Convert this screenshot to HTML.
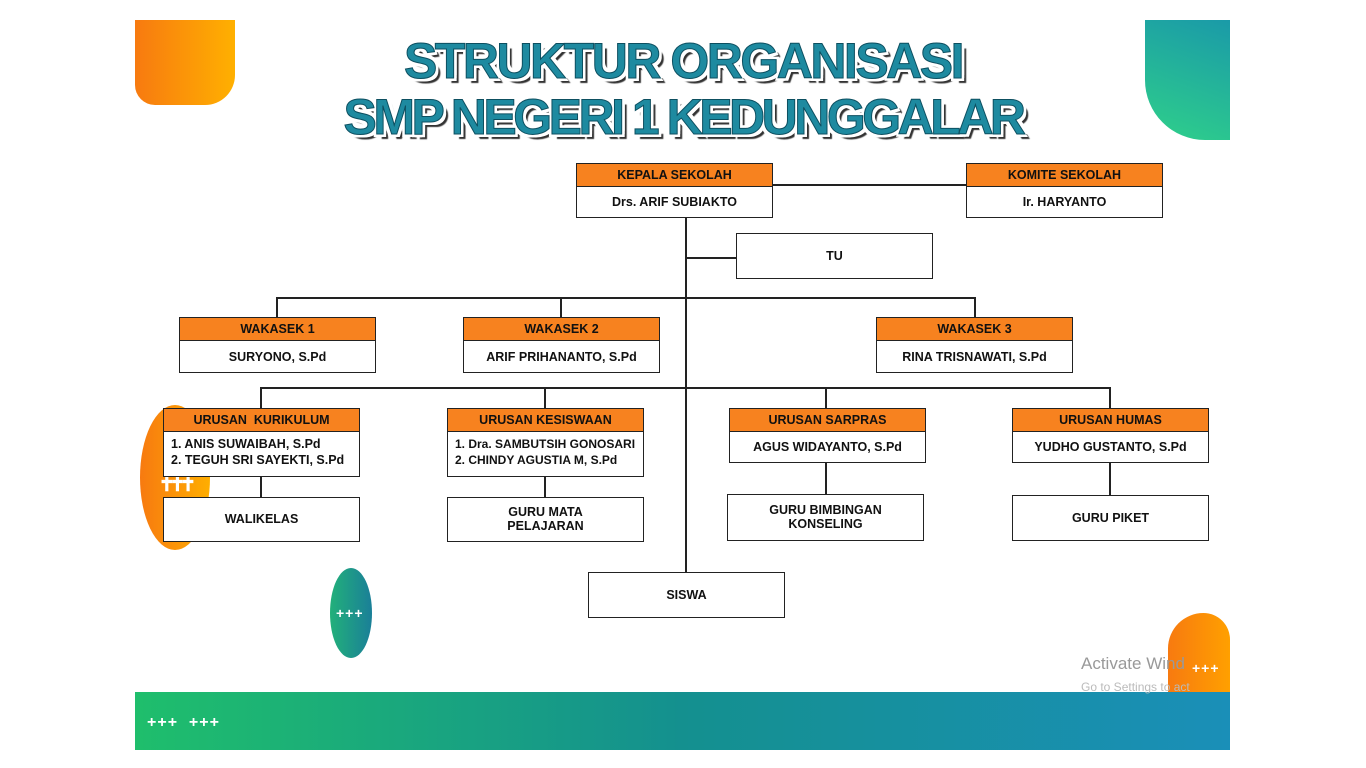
<!DOCTYPE html>
<html><head><meta charset="utf-8"><style>
body{margin:0;width:1366px;height:768px;background:#fff;position:relative;overflow:hidden;font-family:"Liberation Sans",sans-serif}
.a{position:absolute}
.box{position:absolute;border:1.5px solid #222;background:#fff;box-sizing:border-box;font-weight:bold;font-size:12.5px;color:#111}
.box .h{background:#f7821f;border-bottom:1.5px solid #222;text-align:center;height:22px;line-height:22px}
.box .b{text-align:center;display:flex;align-items:center;justify-content:center}
.box .l{text-align:left;padding:4px 0 0 7px;line-height:16px;display:block}
.ln{position:absolute;background:#222}
.t{position:absolute;left:0;width:1366px;text-align:center;font-weight:bold;font-size:50px;letter-spacing:-3px;color:#1e8aa0;-webkit-text-stroke:1px #0d4f60;text-shadow:3px 3px 0 #fff,-3px -3px 0 #fff,3px -3px 0 #fff,-3px 3px 0 #fff,0 3px 0 #fff,3px 0 0 #fff,5px 5px 1px #333}
.pl{color:#fff;font-weight:bold;font-size:16px;letter-spacing:1px}
</style></head><body>
<div class="a" style="left:135px;top:20px;width:100px;height:85px;background:linear-gradient(90deg,#f77a10,#ffb000);border-radius:0 0 30px 20px"></div>
<div class="a" style="left:1145px;top:20px;width:85px;height:120px;background:linear-gradient(200deg,#1a9aa8,#2fd08a);border-radius:0 0 0 60px"></div>
<div class="a" style="left:140px;top:405px;width:70px;height:145px;background:linear-gradient(90deg,#f77a10,#ffae00);border-radius:50%"></div>
<div class="a pl" style="left:162px;top:472px">╋╋╋</div>
<div class="a" style="left:330px;top:568px;width:42px;height:90px;background:linear-gradient(90deg,#22b07a,#1a7f98);border-radius:50%"></div>
<div class="a pl" style="left:336px;top:605px;font-size:14px">+++</div>
<div class="a" style="left:1168px;top:613px;width:62px;height:80px;background:linear-gradient(90deg,#f77a10,#ffa000);border-radius:40px 30px 0 0"></div>
<div class="a" style="left:135px;top:692px;width:1095px;height:58px;background:linear-gradient(90deg,#1fbe6c,#14908f 50%,#1a8fb8)"></div>
<div class="a pl" style="left:147px;top:714px">+++&nbsp;&nbsp;+++</div>
<div class="a pl" style="left:1192px;top:660px;font-size:14px">+++</div>
<div class="a" style="left:1081px;top:654px;color:#999;font-size:17px">Activate Wind</div>
<div class="a" style="left:1081px;top:680px;color:#bbb;font-size:12px">Go to Settings to act</div>
<div class="t" style="top:32px;letter-spacing:-2.5px">STRUKTUR ORGANISASI</div>
<div class="t" style="top:88px;letter-spacing:-3.5px">SMP NEGERI 1 KEDUNGGALAR</div>

<div class="ln" style="left:772px;top:184px;width:194px;height:2px"></div>
<div class="ln" style="left:685px;top:217px;width:2px;height:355px"></div>
<div class="ln" style="left:686px;top:257px;width:50px;height:2px"></div>
<div class="ln" style="left:276px;top:297px;width:700px;height:2px"></div>
<div class="ln" style="left:276px;top:297px;width:2px;height:20px"></div>
<div class="ln" style="left:560px;top:297px;width:2px;height:20px"></div>
<div class="ln" style="left:974px;top:297px;width:2px;height:20px"></div>
<div class="ln" style="left:260px;top:387px;width:851px;height:2px"></div>
<div class="ln" style="left:260px;top:387px;width:2px;height:21px"></div>
<div class="ln" style="left:544px;top:387px;width:2px;height:21px"></div>
<div class="ln" style="left:825px;top:387px;width:2px;height:21px"></div>
<div class="ln" style="left:1109px;top:387px;width:2px;height:21px"></div>
<div class="ln" style="left:260px;top:476px;width:2px;height:21px"></div>
<div class="ln" style="left:544px;top:476px;width:2px;height:21px"></div>
<div class="ln" style="left:825px;top:462px;width:2px;height:32px"></div>
<div class="ln" style="left:1109px;top:462px;width:2px;height:33px"></div>

<div class="box" style="left:576px;top:163px;width:197px;height:55px"><div class="h">KEPALA SEKOLAH</div><div class="b" style="height:30px">Drs. ARIF SUBIAKTO</div></div>
<div class="box" style="left:966px;top:163px;width:197px;height:55px"><div class="h">KOMITE SEKOLAH</div><div class="b" style="height:30px">Ir. HARYANTO</div></div>
<div class="box" style="left:736px;top:233px;width:197px;height:46px"><div class="b" style="height:43px">TU</div></div>
<div class="box" style="left:179px;top:317px;width:197px;height:56px"><div class="h">WAKASEK 1</div><div class="b" style="height:31px">SURYONO, S.Pd</div></div>
<div class="box" style="left:463px;top:317px;width:197px;height:56px"><div class="h">WAKASEK 2</div><div class="b" style="height:31px">ARIF PRIHANANTO, S.Pd</div></div>
<div class="box" style="left:876px;top:317px;width:197px;height:56px"><div class="h">WAKASEK 3</div><div class="b" style="height:31px">RINA TRISNAWATI, S.Pd</div></div>
<div class="box" style="left:163px;top:408px;width:197px;height:69px"><div class="h">URUSAN &nbsp;KURIKULUM</div><div class="l">1. ANIS SUWAIBAH, S.Pd<br>2. TEGUH SRI SAYEKTI, S.Pd</div></div>
<div class="box" style="left:447px;top:408px;width:197px;height:69px"><div class="h">URUSAN KESISWAAN</div><div class="l" style="font-size:12px">1. Dra. SAMBUTSIH GONOSARI<br>2. CHINDY AGUSTIA M, S.Pd</div></div>
<div class="box" style="left:729px;top:408px;width:197px;height:55px"><div class="h">URUSAN SARPRAS</div><div class="b" style="height:30px">AGUS WIDAYANTO, S.Pd</div></div>
<div class="box" style="left:1012px;top:408px;width:197px;height:55px"><div class="h">URUSAN HUMAS</div><div class="b" style="height:30px">YUDHO GUSTANTO, S.Pd</div></div>
<div class="box" style="left:163px;top:497px;width:197px;height:45px"><div class="b" style="height:42px">WALIKELAS</div></div>
<div class="box" style="left:447px;top:497px;width:197px;height:45px"><div class="b" style="height:42px">GURU MATA<br>PELAJARAN</div></div>
<div class="box" style="left:727px;top:494px;width:197px;height:47px"><div class="b" style="height:44px">GURU BIMBINGAN<br>KONSELING</div></div>
<div class="box" style="left:1012px;top:495px;width:197px;height:46px"><div class="b" style="height:43px">GURU PIKET</div></div>
<div class="box" style="left:588px;top:572px;width:197px;height:46px"><div class="b" style="height:43px">SISWA</div></div>
</body></html>
